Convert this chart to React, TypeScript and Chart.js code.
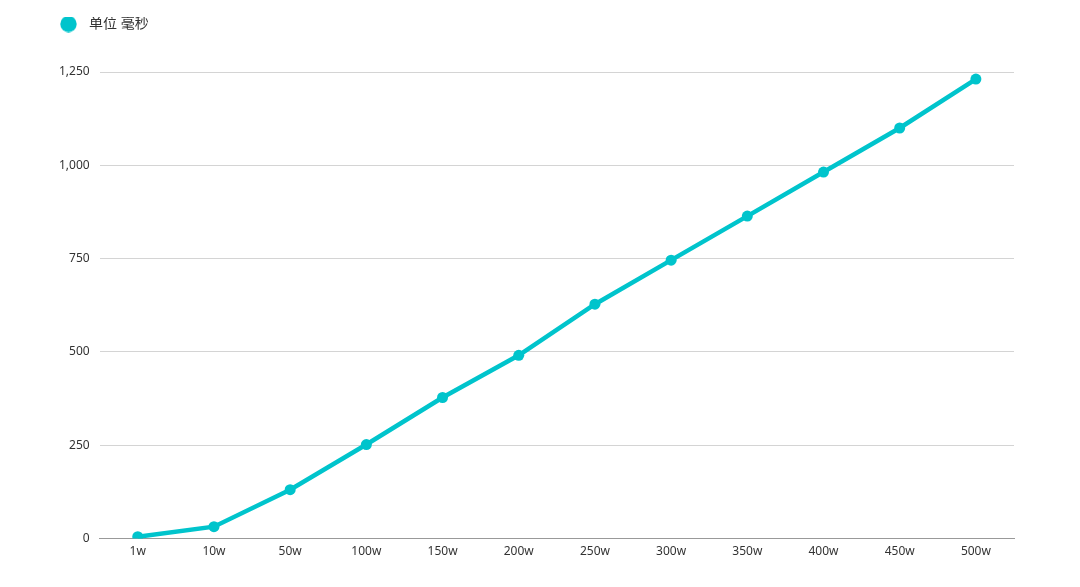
import React, { useEffect, useRef } from "react";
import { Chart, registerables } from "chart.js";

Chart.register(...registerables);

const categories = ["1w", "10w", "50w", "100w", "150w", "200w", "250w", "300w", "350w", "400w", "450w", "500w"];
const seriesName = "单位 毫秒";
const values = [5, 32, 131, 252, 378, 491, 628, 746, 864, 982, 1100, 1231];
const yMax = 1250;
const yStep = 250;

const FONT = "'Noto Sans', 'Noto Sans CJK SC', sans-serif";
const COLOR = "#00c4cc";

function makeLegendDot(): HTMLCanvasElement {
  const c = document.createElement("canvas");
  c.width = 33;
  c.height = 17;
  const ctx = c.getContext("2d") as CanvasRenderingContext2D;
  ctx.fillStyle = COLOR;
  ctx.beginPath();
  ctx.arc(19.5, 8.5, 8.2, 0, Math.PI * 2);
  ctx.fill();
  return c;
}

export default function App() {
  const ref = useRef<HTMLCanvasElement | null>(null);
  useEffect(() => {
    document.body.style.margin = "0";
    const dot = makeLegendDot();
    const chart = new Chart(ref.current as HTMLCanvasElement, {
      type: "line",
      data: {
        labels: categories,
        datasets: [
          {
            label: seriesName,
            data: values,
            borderColor: COLOR,
            backgroundColor: COLOR,
            borderWidth: 4.5,
            pointRadius: 5.5,
            pointHoverRadius: 5.5,
            pointBackgroundColor: COLOR,
            pointBorderColor: COLOR,
            pointBorderWidth: 0,
            tension: 0,
          },
        ],
      },
      options: {
        animation: false,
        responsive: false,
        layout: { padding: { left: 49, right: 66, top: 17, bottom: 22 } },
        plugins: {
          legend: {
            position: "top",
            align: "start",
            labels: {
              usePointStyle: true,
              pointStyle: dot as any,
              pointStyleWidth: 33,
              boxHeight: 14,
              color: "#333",
              font: { family: FONT, size: 14 },
              padding: 0,
            },
          },
          tooltip: { enabled: false },
        },
        scales: {
          x: {
            offset: true,
            grid: { display: false, drawTicks: false },
            border: { display: true, color: "#999", width: 1 },
            ticks: { color: "#333", font: { family: FONT, size: 12 }, padding: 6, maxRotation: 0 },
          },
          y: {
            min: 0,
            max: yMax,
            grid: { color: "#d4d4d4", drawTicks: false },
            border: { display: false },
            ticks: { stepSize: yStep, color: "#333", font: { family: FONT, size: 12 }, padding: 10 },
          },
        },
      },
      plugins: [
        {
          id: "legendHeight",
          beforeInit(c: any) {
            const orig = c.legend && c.legend.fit;
            if (c.legend && orig) {
              c.legend.fit = function () {
                orig.call(this);
                this.height = 55;
              };
            }
          },
        } as any,
      ],
    });
    return () => chart.destroy();
  }, []);
  return (
    <div style={{ width: 1080, height: 587 }}>
      <canvas ref={ref} width={1080} height={587} />
    </div>
  );
}
